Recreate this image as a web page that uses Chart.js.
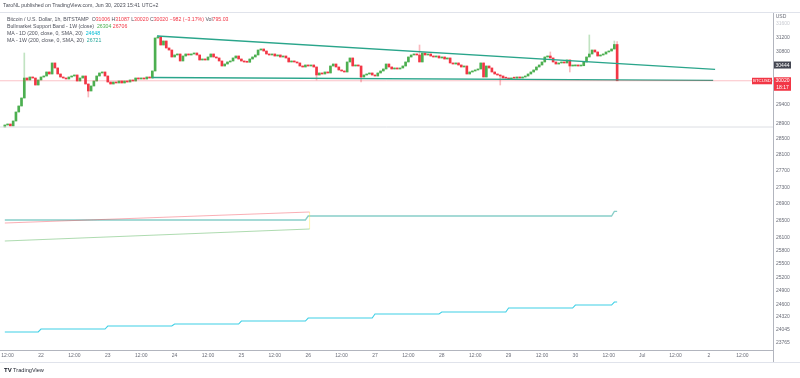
<!DOCTYPE html>
<html>
<head>
<meta charset="utf-8">
<script src="https://cdn.jsdelivr.net/npm/chart.js@4.4.1/dist/chart.umd.min.js"></script>
<style>
html, body { margin: 0; padding: 0; background: #fff; }
#wrap { position: relative; width: 800px; height: 378px; overflow: hidden; font-family: "Liberation Sans", Arial, sans-serif; }
#c { position: absolute; left: 0; top: 0; }
.txt { position: absolute; white-space: nowrap; color: #50535e; font-size: 5.2px; line-height: 7px; }
.r { color: #f23645; }
.g { color: #4caf50; }
.cy { color: #00bcd4; }
.tl { color: #26a69a; }
</style>
</head>
<body>
<div id="wrap">
  <canvas id="c" width="800" height="378"></canvas>
  <div class="txt" style="left:3px;top:1.5px;font-size:5.25px;color:#4a4d57">TaroNL published on TradingView.com, Jun 30, 2023 15:41 UTC+2</div>
  <div class="txt" style="left:7px;top:15.5px">Bitcoin / U.S. Dollar, 1h, BITSTAMP&nbsp; O<span class="r">31006</span> H<span class="r">31087</span> L<span class="r">30020</span> C<span class="r">30020</span> <span class="r">−982 (−3.17%)</span> Vol<span class="r">795.03</span></div>
  <div class="txt" style="left:7px;top:22.5px">Bullmarket Support Band - 1W (close)&nbsp; <span class="g">26304</span> <span class="r">26706</span></div>
  <div class="txt" style="left:7px;top:29.8px">MA - 1D (200, close, 0, SMA, 20)&nbsp; <span class="cy">24648</span></div>
  <div class="txt" style="left:7px;top:37px">MA - 1W (200, close, 0, SMA, 20)&nbsp; <span class="tl">26721</span></div>
  <div class="txt" style="left:4px;top:366.5px;font-size:5.6px;color:#2a2e39"><b style="font-size:6px;color:#131722">TV</b> TradingView</div>
</div>
<script>
// Stunden gezählt ab 22. Juni 00:00 (UTC+2), 1h-Kerzen BTCUSD Bitstamp
const firstHour = -13;
const firstOpen = 28808;
const closes = [
    // 21. Juni (ab 11:00)
    28860, 28885, 28834, 28963, 29196, 29353, 29563, 30094, 30041, 30121, 30094, 29907, 30041,
    // 22. Juni
    30121, 30148, 30256, 30202, 30500, 30364, 30202, 30121, 30094, 30068, 30121, 30148,
    30175, 30014, 30094, 30148, 29934, 29748, 29881, 30014, 30148, 30229, 30256, 30148,
    // 23. Juni
    29987, 29934, 29987, 29961, 30014, 29961, 30014, 29987, 30041, 30014, 30094, 30068,
    30094, 30068, 30121, 30094, 30283, 31186, 31214, 30992, 31103, 30910, 30854, 30663,
    // 24. Juni
    30718, 30745, 30554, 30690, 30745, 30718, 30745, 30772, 30718, 30581, 30608, 30581,
    30663, 30745, 30663, 30636, 30554, 30418, 30472, 30527, 30554, 30636, 30690, 30608,
    // 25. Juni
    30554, 30527, 30520, 30608, 30663, 30718, 30854, 30882, 30827, 30745, 30718, 30745,
    30690, 30718, 30663, 30690, 30636, 30527, 30554, 30527, 30500, 30418, 30391, 30445,
    // 26. Juni
    30418, 30445, 30391, 30175, 30229, 30202, 30256, 30229, 30418, 30472, 30391, 30310,
    30283, 30256, 30527, 30636, 30418, 30445, 30418, 30121, 30175, 30202, 30229, 30175,
    // 27. Juni
    30148, 30229, 30283, 30337, 30472, 30391, 30337, 30364, 30337, 30364, 30418, 30527,
    30663, 30718, 30745, 30718, 30527, 30772, 30718, 30745, 30690, 30663, 30690, 30636,
    // 28. Juni
    30663, 30608, 30636, 30500, 30472, 30500, 30445, 30391, 30418, 30202, 30256, 30283,
    30310, 30337, 30500, 30121, 30418, 30364, 30256, 30202, 30175, 30148, 30094, 30090,
    // 29. Juni
    30068, 30094, 30090, 30121, 30094, 30121, 30148, 30202, 30256, 30310, 30391, 30445,
    30527, 30663, 30690, 30636, 30527, 30472, 30500, 30527, 30500, 30581, 30418, 30420,
    // 30. Juni (bis 15:00)
    30445, 30418, 30425, 30527, 30663, 30745, 30854, 30800, 30690, 30718, 30745, 30800,
    30827, 30882, 31006, 30020
];
// sichtbare Dochte: Stunde, Hoch, Tief
const wickHours = [-6, 17, 42, 99, 115, 136, 165, 183, 190, 197, 206, 207];
const wickHighs = [30772, null, 31260, null, null, 30992, null, 30800, null, 31270, 31103, 31087];
const wickLows  = [null, 29589, null, 30041, 29987, null, 29907, null, 30256, null, null, 30020];

// Trendlinien (Dreieck)
const upperTrendHours = [41.7, 242.2];
const upperTrendValues = [31242, 30328];
const lowerTrendHours = [39.9, 241.5];
const lowerTrendValues = [30107, 30028];

// Bullmarket Support Band
const bandHours = [-13, 96.5];
const bandUpper = [26447, 26707];
const bandLower = [26026, 26306];

// MA 1D (Stufen je Tag) und MA 1W
const ma1dHours = [-13, 0, 24, 48, 72, 96, 120, 144, 168, 192, 206];
const ma1dValues = [24000, 24063, 24127, 24170, 24235, 24300, 24387, 24430, 24517, 24583, 24648];
const ma1wHours = [-13, 96, 206];
const ma1wValues = [26518, 26612, 26721];
const lastHour = 207;

const lastPrice = 30020;
const markerPrice = 30444;
const horizLine = 28808;

const xTickHours = [-12, 0, 12, 24, 36, 48, 60, 72, 84, 96, 108, 120, 132, 144, 156, 168, 180, 192, 204, 216, 228, 240, 252];
const xTickLabels = ['12:00', '22', '12:00', '23', '12:00', '24', '12:00', '25', '12:00', '26', '12:00', '27',
    '12:00', '28', '12:00', '29', '12:00', '30', '12:00', 'Jul', '12:00', '2', '12:00'];
const yTickValues = [31600, 31200, 30800, 29400, 28900, 28500, 28100, 27700, 27300, 26900, 26500, 26100,
    25800, 25500, 25200, 24900, 24600, 24320, 24045, 23765];

const X_MIN = -14.73, X_MAX = 263;
const Y_MIN = 23617, Y_MAX = 31917;

const UP = '#4caf50', DOWN = '#f23645';
const UP_WICK = 'rgba(76,175,80,0.35)', DOWN_WICK = 'rgba(242,54,69,0.35)';

// Kerzen aufbauen
const bodies = [], wicks = [], bodyColors = [], wickColors = [];
let open = firstOpen;
closes.forEach((close, i) => {
    const h = firstHour + i;
    const up = close >= open;
    let hi = Math.max(open, close), lo = Math.min(open, close);
    const w = wickHours.indexOf(h);
    if (w >= 0) {
        if (wickHighs[w] !== null) hi = wickHighs[w];
        if (wickLows[w] !== null) lo = wickLows[w];
    }
    bodies.push({ x: h, y: [open, close] });
    wicks.push({ x: h, y: [lo, hi] });
    bodyColors.push(up ? UP : DOWN);
    wickColors.push(up ? UP_WICK : DOWN_WICK);
    open = close;
});

function pairs(xs, ys) {
    return xs.map((x, i) => ({ x: x, y: ys[i] }));
}
// Stufenlinie: Wert gilt bis eine Stunde vor dem nächsten Wechsel
function steps(xs, ys) {
    const pts = [];
    xs.forEach((x, i) => {
        pts.push({ x: x, y: ys[i] });
        const end = i < xs.length - 1 ? xs[i + 1] - 1 : lastHour;
        pts.push({ x: end, y: ys[i] });
    });
    return pts;
}
function lineDs(data, color, width) {
    return { type: 'line', data: data, borderColor: color, borderWidth: width, pointRadius: 0,
        fill: false, tension: 0, order: 0 };
}

const decor = {
    id: 'decor',
    beforeDatasetsDraw(chart) {
        const ctx = chart.ctx;
        ctx.save();
        ctx.strokeStyle = '#e0e3eb';
        ctx.lineWidth = 1;
        ctx.beginPath();
        ctx.moveTo(0, 12.5); ctx.lineTo(800, 12.5);
        ctx.moveTo(0, 362.5); ctx.lineTo(800, 362.5);
        ctx.stroke();
        ctx.restore();
    },
    afterDraw(chart) {
        const ctx = chart.ctx;
        const y = chart.scales.y;
        const area = chart.chartArea;
        ctx.save();
        // Achsentrenner bis unten
        ctx.strokeStyle = '#b2b5be';
        ctx.beginPath();
        ctx.moveTo(area.right + 0.5, area.bottom); ctx.lineTo(area.right + 0.5, 362);
        ctx.stroke();
        ctx.font = '5px "Liberation Sans", Arial, sans-serif';
        ctx.textAlign = 'center';
        ctx.textBaseline = 'middle';
        ctx.fillStyle = '#6a6d78';
        ctx.fillText('USD', area.right + 8, 17);
        // Marker 30444
        const ym = y.getPixelForValue(markerPrice);
        ctx.fillStyle = '#434651';
        ctx.fillRect(area.right + 1, ym - 3.5, 17, 7);
        ctx.fillStyle = '#fff';
        ctx.fillText(String(markerPrice), area.right + 9.5, ym + 0.3);
        // letzter Kurs
        const yl = y.getPixelForValue(lastPrice);
        ctx.fillStyle = DOWN;
        ctx.fillRect(area.right + 1, yl - 3.5, 17, 13.5);
        ctx.fillRect(area.right - 21, yl - 3, 20, 6.5);
        ctx.fillStyle = '#fff';
        ctx.fillText(String(lastPrice), area.right + 9.5, yl + 0.3);
        ctx.fillText('18:17', area.right + 9.5, yl + 6.5);
        ctx.font = '4.4px "Liberation Sans", Arial, sans-serif';
        ctx.fillText('BTCUSD', area.right - 11, yl + 0.3);
        ctx.restore();
    }
};

new Chart(document.getElementById('c'), {
    type: 'bar',
    data: {
        datasets: [
            lineDs(pairs([X_MIN, X_MAX], [lastPrice, lastPrice]), 'rgba(242,54,69,0.3)', 1),
            lineDs(pairs([X_MIN, X_MAX], [horizLine, horizLine]), '#dcdee3', 1),
            lineDs(pairs(upperTrendHours, upperTrendValues), '#2aa58b', 1.3),
            lineDs(pairs(lowerTrendHours, lowerTrendValues), '#2aa58b', 1.3),
            lineDs(pairs(bandHours, bandUpper), 'rgba(242,54,69,0.4)', 1.2),
            lineDs(pairs(bandHours, bandLower), 'rgba(76,175,80,0.45)', 1.2),
            lineDs(pairs([bandHours[1], bandHours[1]], [bandLower[1], bandUpper[1]]), 'rgba(255,235,59,0.4)', 1),
            lineDs(steps(ma1wHours, ma1wValues), 'rgba(38,166,154,0.55)', 1.3),
            lineDs(steps(ma1dHours, ma1dValues), '#3fd0e6', 1.1),
            { type: 'bar', data: bodies, backgroundColor: bodyColors, barThickness: 2, grouped: false,
              minBarLength: 1, order: 2 },
            { type: 'bar', data: wicks, backgroundColor: wickColors, barThickness: 1, grouped: false,
              order: 3 }
        ]
    },
    options: {
        responsive: false,
        devicePixelRatio: 1,
        animation: false,
        events: [],
        layout: { padding: { top: 12, bottom: 16, left: 0, right: 0 } },
        plugins: { legend: { display: false }, tooltip: { enabled: false } },
        scales: {
            x: {
                type: 'linear',
                min: X_MIN,
                max: X_MAX,
                bounds: 'data',
                offset: false,
                grid: { display: false, drawTicks: false },
                border: { display: true, color: '#b2b5be' },
                afterBuildTicks: (scale) => { scale.ticks = xTickHours.map(v => ({ value: v })); },
                afterFit: (scale) => { scale.height = 12; scale.paddingLeft = 0; scale.paddingRight = 0; },
                ticks: {
                    autoSkip: false,
                    maxRotation: 0,
                    padding: 3,
                    color: '#6a6d78',
                    font: { size: 5, family: '"Liberation Sans", Arial, sans-serif' },
                    callback: (v) => xTickLabels[xTickHours.indexOf(v)]
                }
            },
            y: {
                type: 'logarithmic',
                position: 'right',
                min: Y_MIN,
                max: Y_MAX,
                bounds: 'data',
                grid: { display: false, drawTicks: false },
                border: { display: true, color: '#b2b5be' },
                afterBuildTicks: (scale) => { scale.ticks = yTickValues.map(v => ({ value: v })); },
                afterFit: (scale) => { scale.width = 27; scale.paddingTop = 0; scale.paddingBottom = 0; },
                ticks: {
                    autoSkip: false,
                    padding: 3,
                    color: (c) => c.tick && c.tick.value === 31600 ? '#c9cbd1' : '#6a6d78',
                    font: { size: 5, family: '"Liberation Sans", Arial, sans-serif' },
                    callback: (v) => String(v)
                }
            }
        }
    },
    plugins: [decor]
});
</script>
</body>
</html>
